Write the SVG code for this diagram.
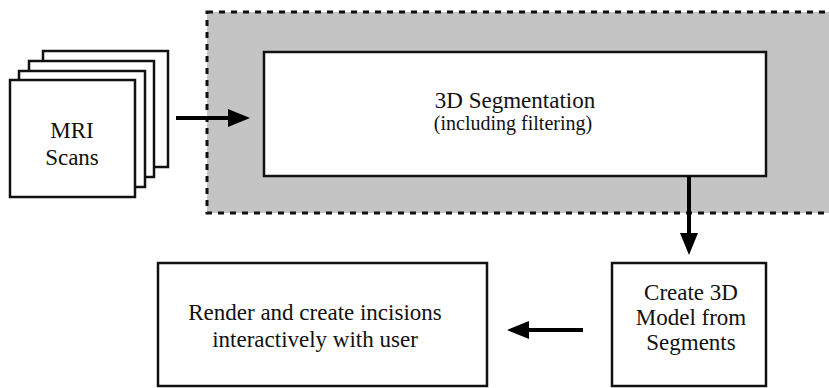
<svg xmlns="http://www.w3.org/2000/svg" width="829" height="388" viewBox="0 0 829 388">
<style>
.box{fill:#fff;stroke:#111;stroke-width:2.5}
.t{font-family:'Liberation Serif','DejaVu Serif','Times New Roman',serif;fill:#111;text-anchor:middle}
.c{stroke:#000;stroke-width:4;fill:none}
.h{fill:#000;stroke:none}
</style>
<rect width="829" height="388" fill="#fff"/>
<g id="segmentation-region">
<rect x="207" y="12" width="640" height="201" fill="#c4c4c4" stroke="#111" stroke-width="3" stroke-dasharray="6,6"/>
</g>
<g id="mri-scans">
<rect class="box" x="43" y="51" width="125" height="116"/>
<rect class="box" x="29" y="61" width="125" height="116"/>
<rect class="box" x="19" y="71" width="126" height="116"/>
<rect class="box" x="10" y="80" width="125" height="117"/>
<text class="t" font-family="Liberation Serif, serif" font-size="23" x="72" y="138">MRI</text>
<text class="t" font-family="Liberation Serif, serif" font-size="23" x="72" y="165">Scans</text>
</g>
<g id="segmentation">
<rect class="box" x="264" y="52" width="502" height="124"/>
<text class="t" font-family="Liberation Serif, serif" font-size="23" x="515" y="108">3D Segmentation</text>
<text class="t" font-family="Liberation Serif, serif" font-size="20" x="513" y="130">(including filtering)</text>
</g>
<g id="create-model">
<rect class="box" x="612" y="263" width="154" height="123"/>
<text class="t" font-family="Liberation Serif, serif" font-size="23" x="691" y="300">Create 3D</text>
<text class="t" font-family="Liberation Serif, serif" font-size="23" x="691" y="325">Model from</text>
<text class="t" font-family="Liberation Serif, serif" font-size="23" x="691" y="350">Segments</text>
</g>
<g id="render">
<rect class="box" x="158" y="263" width="329" height="123"/>
<text class="t" font-family="Liberation Serif, serif" font-size="23" x="315" y="320">Render and create incisions</text>
<text class="t" font-family="Liberation Serif, serif" font-size="23" x="315" y="347">interactively with user</text>
</g>
<g id="connectors">
<line class="c" x1="176" y1="118" x2="232" y2="118"/>
<polygon class="h" points="228,109 250,118 228,127"/>
<line class="c" x1="689" y1="176" x2="689" y2="236"/>
<polygon class="h" points="680,233 689,255 698,233"/>
<line class="c" x1="583" y1="330" x2="526" y2="330"/>
<polygon class="h" points="529,321 507,330 529,339"/>
</g>
</svg>
